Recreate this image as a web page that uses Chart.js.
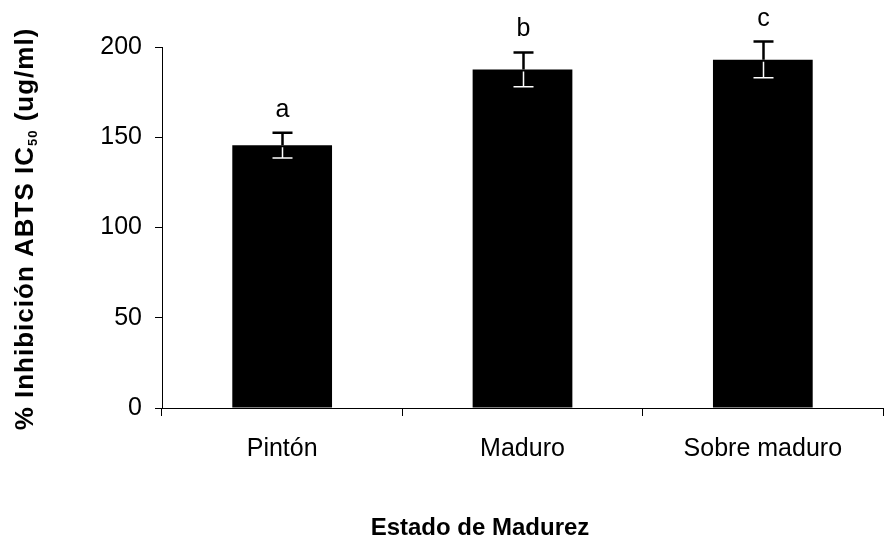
<!DOCTYPE html>
<html lang="es">
<head>
<meta charset="UTF-8">
<title>ABTS IC50 por estado de madurez</title>
<script src="https://cdn.jsdelivr.net/npm/chart.js"></script>
<style>
  body { margin: 0; background: #fff; }
  .wrap { width: 885px; height: 541px; position: relative; }
</style>
</head>
<body>
<div class="wrap"><canvas id="chart"></canvas></div>
<script>
const categories = ['Pintón', 'Maduro', 'Sobre maduro'];
const values = [145.5, 187.5, 193];
const errors = [7, 9.5, 10];
const letters = ['a', 'b', 'c'];
const yTicks = [0, 50, 100, 150, 200];

const FONT = '"Liberation Sans", Arial, sans-serif';

// error bars + significance letters
const errorBars = {
  id: 'errorBars',
  afterDatasetsDraw(chart) {
    const ctx = chart.ctx;
    const y = chart.scales.y;
    const meta = chart.getDatasetMeta(0);
    ctx.save();
    meta.data.forEach((bar, i) => {
      const x = Math.round(bar.x) + 0.5;
      const hi = y.getPixelForValue(values[i] + errors[i]);
      const mid = y.getPixelForValue(values[i]);
      const lo = y.getPixelForValue(values[i] - errors[i]);

      ctx.strokeStyle = '#000';
      ctx.lineWidth = 2.5;
      ctx.beginPath();
      ctx.moveTo(x, hi); ctx.lineTo(x, mid);
      ctx.moveTo(x - 10, hi); ctx.lineTo(x + 10, hi);
      ctx.stroke();

      // part inside the bar shows up light
      ctx.strokeStyle = '#fff';
      ctx.lineWidth = 1.5;
      ctx.beginPath();
      ctx.moveTo(x, mid + 2); ctx.lineTo(x, lo);
      ctx.moveTo(x - 10, lo); ctx.lineTo(x + 10, lo);
      ctx.stroke();

      ctx.fillStyle = '#000';
      ctx.font = '25px ' + FONT;
      ctx.textAlign = 'center';
      ctx.textBaseline = 'alphabetic';
      ctx.fillText(letters[i], x, hi - 16);
    });
    ctx.restore();
  }
};

// axis titles (y title needs a subscript)
const axisTitles = {
  id: 'axisTitles',
  afterDraw(chart) {
    const ctx = chart.ctx;
    ctx.save();
    ctx.fillStyle = '#000';
    ctx.textBaseline = 'alphabetic';

    ctx.font = 'bold 24px ' + FONT;
    ctx.textAlign = 'center';
    ctx.fillText('Estado de Madurez', 480, 535);

    const main = 'bold 26px ' + FONT;
    const sub = 'bold 13px ' + FONT;
    const parts = [
      { t: '% Inhibición ABTS IC', f: main, dy: 0 },
      { t: '50', f: sub, dy: 4 },
      { t: ' (ug/ml)', f: main, dy: 0 }
    ];
    ctx.letterSpacing = '1px';
    let total = 0;
    parts.forEach(p => { ctx.font = p.f; p.w = ctx.measureText(p.t).width; total += p.w; });
    ctx.translate(33, 229);
    ctx.rotate(-Math.PI / 2);
    ctx.textAlign = 'left';
    let cx = -total / 2;
    parts.forEach(p => {
      ctx.font = p.f;
      ctx.fillText(p.t, cx, p.dy);
      cx += p.w;
    });
    ctx.restore();
  }
};

new Chart(document.getElementById('chart'), {
  type: 'bar',
  data: {
    labels: categories,
    datasets: [{
      data: values,
      backgroundColor: '#000',
      borderWidth: 0,
      barPercentage: 0.415,
      categoryPercentage: 1
    }]
  },
  options: {
    responsive: true,
    maintainAspectRatio: false,
    animation: false,
    layout: { padding: { top: 47, right: 2, left: 0, bottom: 0 } },
    plugins: { legend: { display: false }, tooltip: { enabled: false } },
    scales: {
      x: {
        grid: { offset: true, drawOnChartArea: false, color: '#000', tickLength: 8 },
        border: { color: '#000', width: 1 },
        ticks: { color: '#000', font: { family: FONT, size: 25 }, padding: 18 },
        afterFit(s) { s.height = 133; }
      },
      y: {
        min: 0,
        max: 200,
        afterBuildTicks(s) { s.ticks = yTicks.map(v => ({ value: v })); },
        grid: { drawOnChartArea: false, color: '#000', tickLength: 7 },
        border: { color: '#000', width: 1 },
        ticks: { color: '#000', font: { family: FONT, size: 25 }, padding: 13 },
        afterFit(s) { s.width = 162; }
      }
    }
  },
  plugins: [errorBars, axisTitles]
});
</script>
</body>
</html>
